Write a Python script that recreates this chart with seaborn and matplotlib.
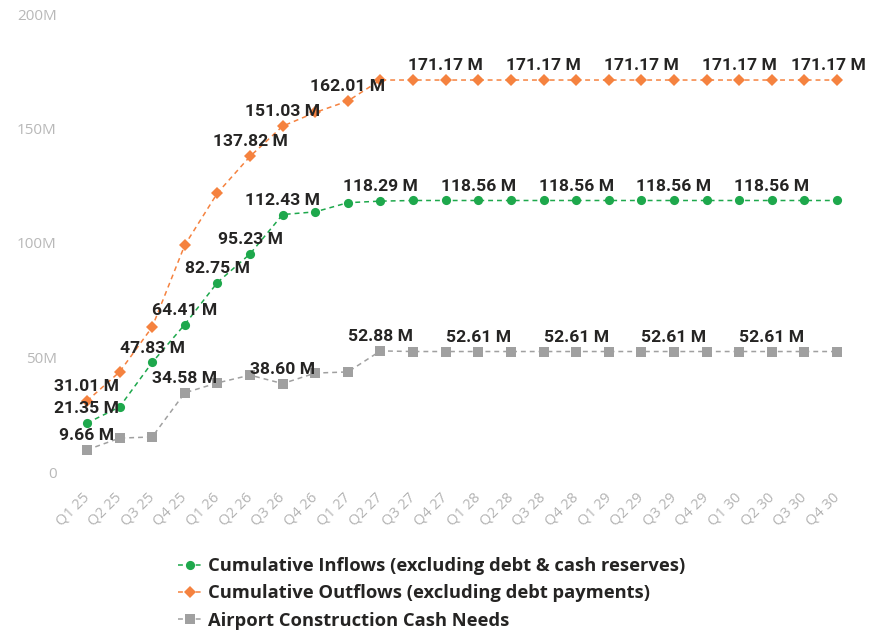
import matplotlib
matplotlib.use("Agg")
import matplotlib.pyplot as plt
import seaborn as sns
import pandas as pd

# Quarter labels along the horizontal axis
quarters = [
    "Q1 25", "Q2 25", "Q3 25", "Q4 25",
    "Q1 26", "Q2 26", "Q3 26", "Q4 26",
    "Q1 27", "Q2 27", "Q3 27", "Q4 27",
    "Q1 28", "Q2 28", "Q3 28", "Q4 28",
    "Q1 29", "Q2 29", "Q3 29", "Q4 29",
    "Q1 30", "Q2 30", "Q3 30", "Q4 30",
]

# Cumulative values in millions
inflows = [21.35, 28.4, 47.83, 64.41, 82.75, 95.23, 112.43, 113.6, 117.6, 118.29,
           118.56, 118.56, 118.56, 118.56, 118.56, 118.56, 118.56, 118.56, 118.56,
           118.56, 118.56, 118.56, 118.56, 118.56]
outflows = [31.01, 43.7, 63.3, 99.1, 121.8, 137.82, 151.03, 157.0, 162.01, 171.17,
            171.17, 171.17, 171.17, 171.17, 171.17, 171.17, 171.17, 171.17, 171.17,
            171.17, 171.17, 171.17, 171.17, 171.17]
construction = [9.66, 14.8, 15.3, 34.58, 38.9, 42.3, 38.60, 43.2, 43.7, 52.88,
                52.61, 52.61, 52.61, 52.61, 52.61, 52.61, 52.61, 52.61, 52.61,
                52.61, 52.61, 52.61, 52.61, 52.61]

# Which points carry a value label
inflow_labels = [0, 2, 3, 4, 5, 6, 9, 12, 15, 18, 21]
outflow_labels = [0, 5, 6, 8, 11, 14, 17, 20, 23]
construction_labels = [0, 3, 6, 9, 12, 15, 18, 21]

series_names = [
    "Cumulative Inflows (excluding debt & cash reserves)",
    "Cumulative Outflows (excluding debt payments)",
    "Airport Construction Cash Needs",
]
y_ticks = [0, 50, 100, 150, 200]
y_tick_labels = ["0", "50M", "100M", "150M", "200M"]

colors = {
    series_names[0]: "#1EA84C",
    series_names[1]: "#F5823F",
    series_names[2]: "#A0A0A0",
}
markers = {series_names[0]: "o", series_names[1]: "D", series_names[2]: "s"}
dashes = {name: (3.2, 2.6) for name in series_names}

values = [inflows, outflows, construction]
label_idx = [inflow_labels, outflow_labels, construction_labels]

df = pd.concat(
    [pd.DataFrame({"pos": range(len(quarters)), "value": v, "series": name})
     for name, v in zip(series_names, values)],
    ignore_index=True,
)

sns.set_theme(style="white")
plt.rcParams["font.family"] = ["Open Sans", "DejaVu Sans"]

fig = plt.figure(figsize=(8.72, 6.32), dpi=100)
ax = fig.add_axes([70 / 872, 1 - 472 / 632, 784 / 872, 458 / 632])

sns.lineplot(
    data=df, x="pos", y="value", hue="series", style="series",
    palette=colors, markers=markers, dashes=dashes,
    linewidth=1.1, markersize=6.6, markeredgewidth=0,
    ax=ax, legend=True,
)

# Value labels above selected points; the last one is nudged inward to stay on the canvas
last = len(quarters) - 1
for name, v, idxs in zip(series_names, values, label_idx):
    for i in idxs:
        dx = -6 if i == last else 0
        ax.annotate(
            f"{v[i]:.2f} M", xy=(i, v[i]), xytext=(dx, 5),
            textcoords="offset points", ha="center", va="bottom",
            fontsize=12.6, fontweight="bold", color="#252423",
            family=["Roboto", "DejaVu Sans"], annotation_clip=False,
        )

ax.set_xlim(-0.52, len(quarters) - 1 + 0.52)
ax.set_ylim(0, 200)
ax.set_xticks(range(len(quarters)))
ax.set_xticklabels(quarters, rotation=45, ha="right", va="center",
                   rotation_mode="anchor", fontsize=10.5, color="#b3b3b3")
ax.set_yticks(y_ticks)
ax.set_yticklabels(y_tick_labels, ha="right", fontsize=11, color="#b8b8b8")
ax.tick_params(axis="x", length=0, pad=17)
ax.tick_params(axis="y", length=0, pad=9.5)
ax.set_xlabel("")
ax.set_ylabel("")
for s in ax.spines.values():
    s.set_visible(False)
ax.grid(False)

handles, labels = ax.get_legend_handles_labels()
leg = ax.legend(
    handles, labels, loc="upper left",
    bbox_to_anchor=(171 / 872, 1 - 550 / 632), bbox_transform=fig.transFigure,
    frameon=False, handlelength=1.3, handletextpad=0.3, labelspacing=0.5,
    borderaxespad=0,
    prop={"weight": "bold", "size": 13.2, "family": ["Open Sans", "DejaVu Sans"]},
)
for t in leg.get_texts():
    t.set_color("#252423")

fig.savefig("out.png", dpi=100)
